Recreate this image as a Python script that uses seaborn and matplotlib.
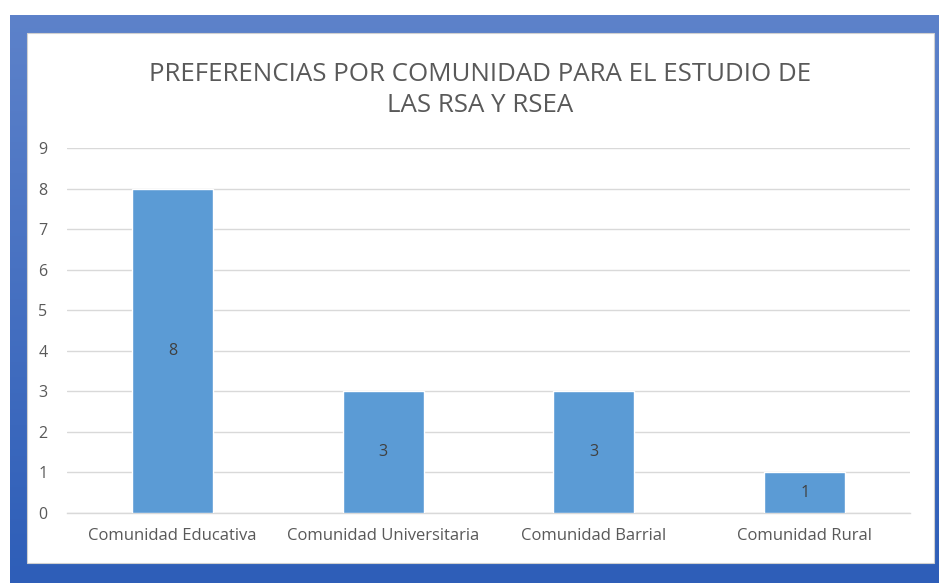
import numpy as np
import pandas as pd
import matplotlib
matplotlib.use('Agg')
import matplotlib.pyplot as plt
import seaborn as sns
from matplotlib.patches import Rectangle

categorias = ['Comunidad Educativa', 'Comunidad Universitaria', 'Comunidad Barrial', 'Comunidad Rural']
valores = [8, 3, 3, 1]
titulo = 'PREFERENCIAS POR COMUNIDAD PARA EL ESTUDIO DE\nLAS RSA Y RSEA'

sns.set_style('white')
plt.rcParams['font.family'] = ['Open Sans', 'DejaVu Sans']

W, H = 939, 583
fig = plt.figure(figsize=(W / 100, H / 100), dpi=100)

# marco azul con degradado
bg = fig.add_axes([0, 0, 1, 1], zorder=-5)
bg.set_xlim(0, W)
bg.set_ylim(H, 0)
bg.axis('off')
top = np.array([0x5d, 0x82, 0xca]) / 255
bot = np.array([0x2e, 0x5e, 0xb8]) / 255
t = np.linspace(0, 1, 200)[:, None]
grad = (top * (1 - t) + bot * t)[:, None, :]
bg.imshow(grad, extent=[10, W, H, 15], aspect='auto', interpolation='bilinear')
bg.add_patch(Rectangle((27, 33), 934 - 27, 563 - 33, facecolor='white', edgecolor='#d0d0d0', lw=0.8))

df = pd.DataFrame({'categoria': categorias, 'valor': valores})

ax = fig.add_axes([67 / W, 1 - 513 / H, (910 - 67) / W, (513 - 148) / H])
ax.patch.set_alpha(0)
sns.barplot(data=df, x='categoria', y='valor', color='#5b9bd5', saturation=1,
            width=0.385, ax=ax, zorder=3)
ax.bar_label(ax.containers[0], label_type='center', fontsize=11.5, color='#404040')

ax.set_ylim(0, 9)
ax.set_xlim(-0.5, 3.5)
ax.set_yticks(range(0, 10))
ax.yaxis.grid(True, color='#d9d9d9', lw=1, zorder=0)
ax.set_xlabel('')
ax.set_ylabel('')
for s in ['top', 'right', 'left']:
    ax.spines[s].set_visible(False)
ax.spines['bottom'].set_color('#d9d9d9')
ax.spines['bottom'].set_linewidth(1)
ax.tick_params(axis='y', length=0, pad=14, labelsize=11.5, labelcolor='#595959')
ax.tick_params(axis='x', length=0, pad=11, labelsize=12, labelcolor='#595959')
ax.set_xticks(np.arange(-0.5, 4, 1), minor=True)
ax.tick_params(axis='x', which='minor', length=6, color='#d9d9d9', width=1)

fig.text(480 / W, 1 - 90 / H, titulo, ha='center', va='center', fontsize=18.6,
         color='#595959', linespacing=1.3)

fig.savefig('out.png', dpi=100)
